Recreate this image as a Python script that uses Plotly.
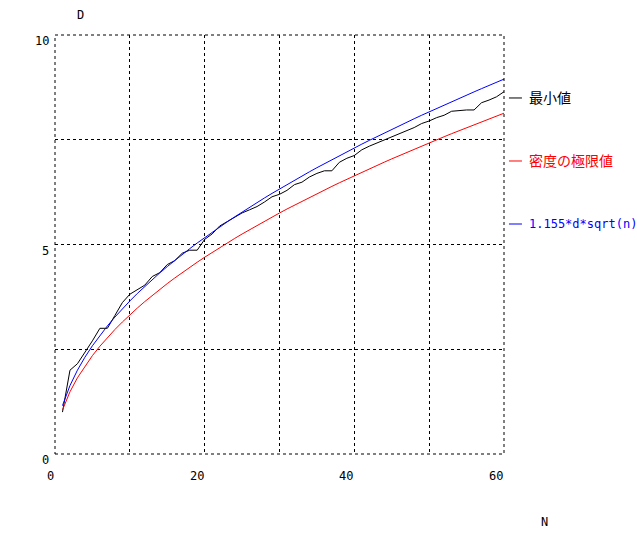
import plotly.graph_objects as go

# N values (number of circles)
n_values = list(range(1, 61))

# 最小値 : minimal enclosing diameter D
d_min = [1.000, 2.000, 2.155, 2.414, 2.701, 3.000, 3.000, 3.305, 3.613, 3.813,
         3.924, 4.030, 4.236, 4.328, 4.521, 4.615, 4.792, 4.864, 4.864, 5.122,
         5.252, 5.440, 5.545, 5.652, 5.753, 5.828, 5.906, 6.015, 6.139, 6.198,
         6.292, 6.429, 6.487, 6.611, 6.697, 6.759, 6.759, 6.962, 7.058, 7.124,
         7.260, 7.347, 7.420, 7.498, 7.573, 7.650, 7.724, 7.791, 7.887, 7.948,
         8.028, 8.085, 8.180, 8.204, 8.211, 8.211, 8.384, 8.447, 8.525, 8.646]

# 密度の極限値 : density-limit curve
d_density = [1.050, 1.485, 1.819, 2.100, 2.348, 2.572, 2.778, 2.970, 3.150, 3.321,
             3.483, 3.638, 3.786, 3.929, 4.067, 4.200, 4.330, 4.455, 4.577, 4.696,
             4.812, 4.925, 5.036, 5.144, 5.250, 5.354, 5.456, 5.557, 5.655, 5.752,
             5.847, 5.940, 6.032, 6.123, 6.212, 6.300, 6.387, 6.473, 6.558, 6.641,
             6.724, 6.805, 6.886, 6.965, 7.044, 7.122, 7.199, 7.275, 7.351, 7.425,
             7.499, 7.572, 7.645, 7.716, 7.788, 7.858, 7.928, 7.997, 8.066, 8.134]

# 1.155*d*sqrt(n) curve
d_hex = [1.155, 1.633, 2.001, 2.310, 2.583, 2.829, 3.056, 3.267, 3.465, 3.652,
         3.831, 4.001, 4.164, 4.322, 4.473, 4.620, 4.762, 4.900, 5.035, 5.165,
         5.293, 5.417, 5.539, 5.658, 5.775, 5.889, 6.002, 6.112, 6.220, 6.326,
         6.431, 6.534, 6.635, 6.735, 6.833, 6.930, 7.026, 7.120, 7.213, 7.305,
         7.396, 7.485, 7.574, 7.661, 7.748, 7.834, 7.918, 8.002, 8.085, 8.167,
         8.248, 8.329, 8.409, 8.487, 8.566, 8.643, 8.720, 8.796, 8.872, 8.947]

series_names = ["最小値", "密度の極限値", "1.155*d*sqrt(n)"]
series_colors = ["#000000", "#ff0000", "#0000ff"]
series_data = [d_min, d_density, d_hex]

x_ticks = [0, 20, 40, 60]
y_ticks = [0, 5, 10]

FONT = "DejaVu Sans Mono, Noto Sans CJK JP, monospace"

fig = go.Figure()
for name, color, ys in zip(series_names, series_colors, series_data):
    fig.add_trace(go.Scatter(x=n_values, y=ys, mode="lines", name=name,
                             line=dict(color=color, width=1), showlegend=False))

dash = "3px,3px"
fig.update_xaxes(range=[0, 60], tickvals=x_ticks, showticklabels=False,
                 showgrid=True, gridcolor="black", gridwidth=1, griddash=dash,
                 minor=dict(dtick=10, showgrid=True, gridcolor="black", gridwidth=1, griddash=dash),
                 zeroline=False, showline=False, ticks="")
fig.update_yaxes(range=[0, 10], tickvals=y_ticks, showticklabels=False,
                 showgrid=True, gridcolor="black", gridwidth=1, griddash=dash,
                 minor=dict(dtick=2.5, showgrid=True, gridcolor="black", gridwidth=1, griddash=dash),
                 zeroline=False, showline=False, ticks="")

# dashed border of plot area
fig.add_shape(type="rect", xref="paper", yref="paper", x0=0, x1=1, y0=0, y1=1,
              line=dict(color="black", width=1, dash=dash), layer="above")

annotations = [
    dict(text="D", x=0.0557, y=1.048, xref="paper", yref="paper", showarrow=False,
         xanchor="center", yanchor="middle", font=dict(family=FONT, size=12, color="black")),
    dict(text="N", x=1.091, y=-0.162, xref="paper", yref="paper", showarrow=False,
         xanchor="center", yanchor="middle", font=dict(family=FONT, size=12, color="black")),
]
# tick labels (right-aligned to tick, as in the original)
for v in x_ticks:
    annotations.append(dict(text=str(v), x=v, y=0, xref="x", yref="paper", showarrow=False,
                            xanchor="right", yanchor="top", xshift=1, yshift=-13,
                            font=dict(family=FONT, size=12, color="black")))
for v in y_ticks:
    annotations.append(dict(text=str(v), x=0, y=v, xref="paper", yref="y", showarrow=False,
                            xanchor="right", yanchor="top", xshift=-4, yshift=3,
                            font=dict(family=FONT, size=12, color="black")))

legend_y = [0.8497, 0.6993, 0.5489]
legend_sizes = [14, 14, 12]
for name, color, ly, fs in zip(series_names, series_colors, legend_y, legend_sizes):
    fig.add_shape(type="line", xref="paper", yref="paper", x0=1.0111, x1=1.040, y0=ly, y1=ly,
                  line=dict(color=color, width=1))
    annotations.append(dict(text=name, x=1.0512, y=ly, xref="paper", yref="paper",
                            showarrow=False, xanchor="left", yanchor="middle",
                            font=dict(family=FONT, size=fs, color=color)))

fig.update_layout(width=637, height=537, margin=dict(l=55, r=133, t=35, b=83, pad=0),
                  plot_bgcolor="white", paper_bgcolor="white", annotations=annotations,
                  font=dict(family=FONT, size=12, color="black"))

fig.write_html("out.html", config={"displayModeBar": False},
               post_script="document.body.style.margin='0';")
